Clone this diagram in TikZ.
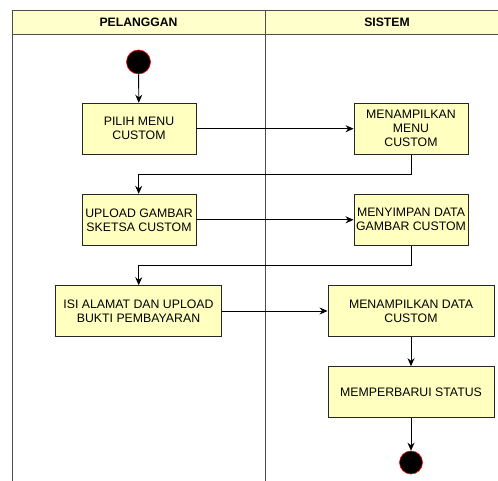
\documentclass[tikz,border=0pt]{standalone}
\usepackage{fontspec}
\setmainfont{Liberation Sans}
\usetikzlibrary{arrows.meta}
\definecolor{laneline}{HTML}{4D4D4D}
\definecolor{headfill}{HTML}{FFFFCC}
\definecolor{actfill}{HTML}{FFFFC0}
\tikzset{
  lane/.style={draw=laneline, line width=0.9pt},
  header/.style={draw=laneline, line width=0.9pt, fill=headfill},
  headtext/.style={font=\fontsize{12.2}{14}\selectfont\bfseries},
  action/.style={draw=black!85, line width=0.9pt, fill=actfill, align=center,
    inner sep=0pt, font=\fontsize{12.3}{14}\selectfont},
  startnode/.style={circle, fill=black, draw=red, line width=0.6pt,
    minimum size=24pt, inner sep=0pt},
  flow/.style={draw=black, line width=0.9pt, -{Stealth[length=8pt,width=7pt]}},
}
\begin{document}
\begin{tikzpicture}[x=1pt, y=-1pt]
\useasboundingbox (0,0) rectangle (498,481);
\fill[white] (0,0) rectangle (498,481);

% swimlanes
\draw[lane] (12,10) -- (12,481);
\draw[lane] (265,34) -- (265,481);
\draw[header] (12,10) rectangle (498.5,34);
\draw[lane] (265,10) -- (265,34);
\node[headtext] (hp) at (138.5,22) {PELANGGAN};
\node[headtext] (hs) at (387,22) {SISTEM};

% start and end
\node[startnode] (start) at (138.5,62) {};
\node[startnode, minimum size=23pt] (end) at (411,462.5) {};

% actions
\node[action, minimum width=114pt, minimum height=51pt] (a1) at (139,128.7) {PILIH MENU\\CUSTOM};
\node[action, minimum width=114pt, minimum height=51pt] (a2) at (411,128.7) {MENAMPILKAN\\MENU\\CUSTOM};
\node[action, minimum width=114pt, minimum height=51pt] (a3) at (139,219.8) {UPLOAD GAMBAR\\SKETSA CUSTOM};
\node[action, minimum width=114pt, minimum height=51pt] (a4) at (411,219.8) {MENYIMPAN DATA\\GAMBAR CUSTOM};
\node[action, minimum width=166.5pt, minimum height=50.7pt] (a5) at (138.5,311) {ISI ALAMAT DAN UPLOAD\\BUKTI PEMBAYARAN};
\node[action, minimum width=166pt, minimum height=50.7pt] (a6) at (411,311) {MENAMPILKAN DATA\\CUSTOM};
\node[action, minimum width=166pt, minimum height=50.7pt] (a7) at (411,392) {MEMPERBARUI STATUS};

% flows
\draw[flow] (start) -- (a1);
\draw[flow] (a1) -- (a2);
\draw[flow] (a2.south) |- (138.7,174.3) -- (a3.north -| 138.7,0);
\draw[flow] (a3) -- (a4);
\draw[flow] (a4.south) |- (138.7,265) -- (a5.north -| 138.7,0);
\draw[flow] (a5) -- (a6);
\draw[flow] (a6) -- (a7);
\draw[flow] (a7) -- (end);
\end{tikzpicture}
\end{document}
